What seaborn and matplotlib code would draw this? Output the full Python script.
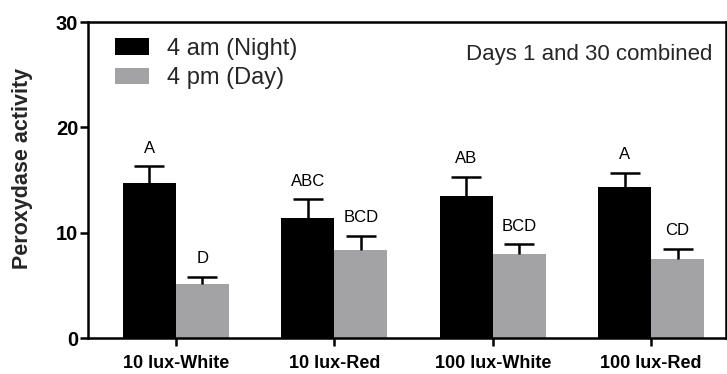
import matplotlib
matplotlib.use("Agg")
import matplotlib.pyplot as plt
import seaborn as sns
import pandas as pd
import numpy as np

categories = ["10 lux-White", "10 lux-Red", "100 lux-White", "100 lux-Red"]
series = ["4 am (Night)", "4 pm (Day)"]
night_mean = [14.7, 11.4, 13.5, 14.3]
night_err = [1.6, 1.8, 1.8, 1.4]
day_mean = [5.1, 8.4, 8.0, 7.5]
day_err = [0.7, 1.3, 0.9, 1.0]
night_letters = ["A", "ABC", "AB", "A"]
day_letters = ["D", "BCD", "BCD", "CD"]
y_ticks = [0, 10, 20, 30]
note = "Days 1 and 30 combined"
ylabel = "Peroxydase activity"

sns.set_theme(style="ticks")
plt.rcParams["font.family"] = ["Liberation Sans", "DejaVu Sans"]

df = pd.DataFrame({
    "group": categories * 2,
    "time": [series[0]] * 4 + [series[1]] * 4,
    "value": night_mean + day_mean,
})

fig = plt.figure(figsize=(7.27, 3.74), dpi=100)
ax = fig.add_axes([0.121, 0.096, 0.877, 0.845])
sns.barplot(data=df, x="group", y="value", hue="time", order=categories,
            hue_order=series, palette=["#000000", "#a3a3a5"], errorbar=None,
            width=0.668, saturation=1, ax=ax, linewidth=0)

errs = [night_err, day_err]
letters = [night_letters, day_letters]
bar_containers = list(ax.containers)
for ci, cont in enumerate(bar_containers):
    for bi, patch in enumerate(cont.patches):
        xc = patch.get_x() + patch.get_width() / 2
        h = patch.get_height()
        e = errs[ci][bi]
        ec = ax.errorbar([xc], [h], yerr=[[0], [e]], fmt="none", ecolor="black",
                         elinewidth=1.8, capsize=10.5, capthick=1.8)
        for cap in ec.lines[1]:
            if np.allclose(cap.get_ydata(), h):
                cap.set_visible(False)
        ax.text(xc, h + e + 1.0, letters[ci][bi], ha="center", va="bottom",
                fontsize=12, color="black")

ax.set_ylim(0, 30)
ax.set_xlim(-0.555, 3.47)
ax.set_yticks(y_ticks)
ax.set_yticklabels([str(t) for t in y_ticks], fontsize=14.5, fontweight="bold")
ax.set_xticks(range(len(categories)))
ax.set_xticklabels(categories, fontsize=13, fontweight="bold")
ax.set_xlabel("")
ax.set_ylabel(ylabel, fontsize=15.5, fontweight="bold")
ax.yaxis.set_label_coords(-0.086, 0.538)
for s in ax.spines.values():
    s.set_visible(True)
    s.set_linewidth(1.8)
    s.set_color("black")
ax.tick_params(axis="both", width=1.8, length=6, colors="black")
ax.tick_params(axis="y", pad=1)
ax.tick_params(axis="x", pad=6)

ax.text(0.98, 0.88, note, transform=ax.transAxes, ha="right", va="baseline",
        fontsize=16)

leg = ax.legend(loc="upper left", bbox_to_anchor=(0.042, 0.95), frameon=False,
                fontsize=17, handlelength=1.45, handleheight=0.68,
                handletextpad=0.75, labelspacing=0.3, borderaxespad=0,
                borderpad=0)

fig.savefig("out.png", dpi=100)
